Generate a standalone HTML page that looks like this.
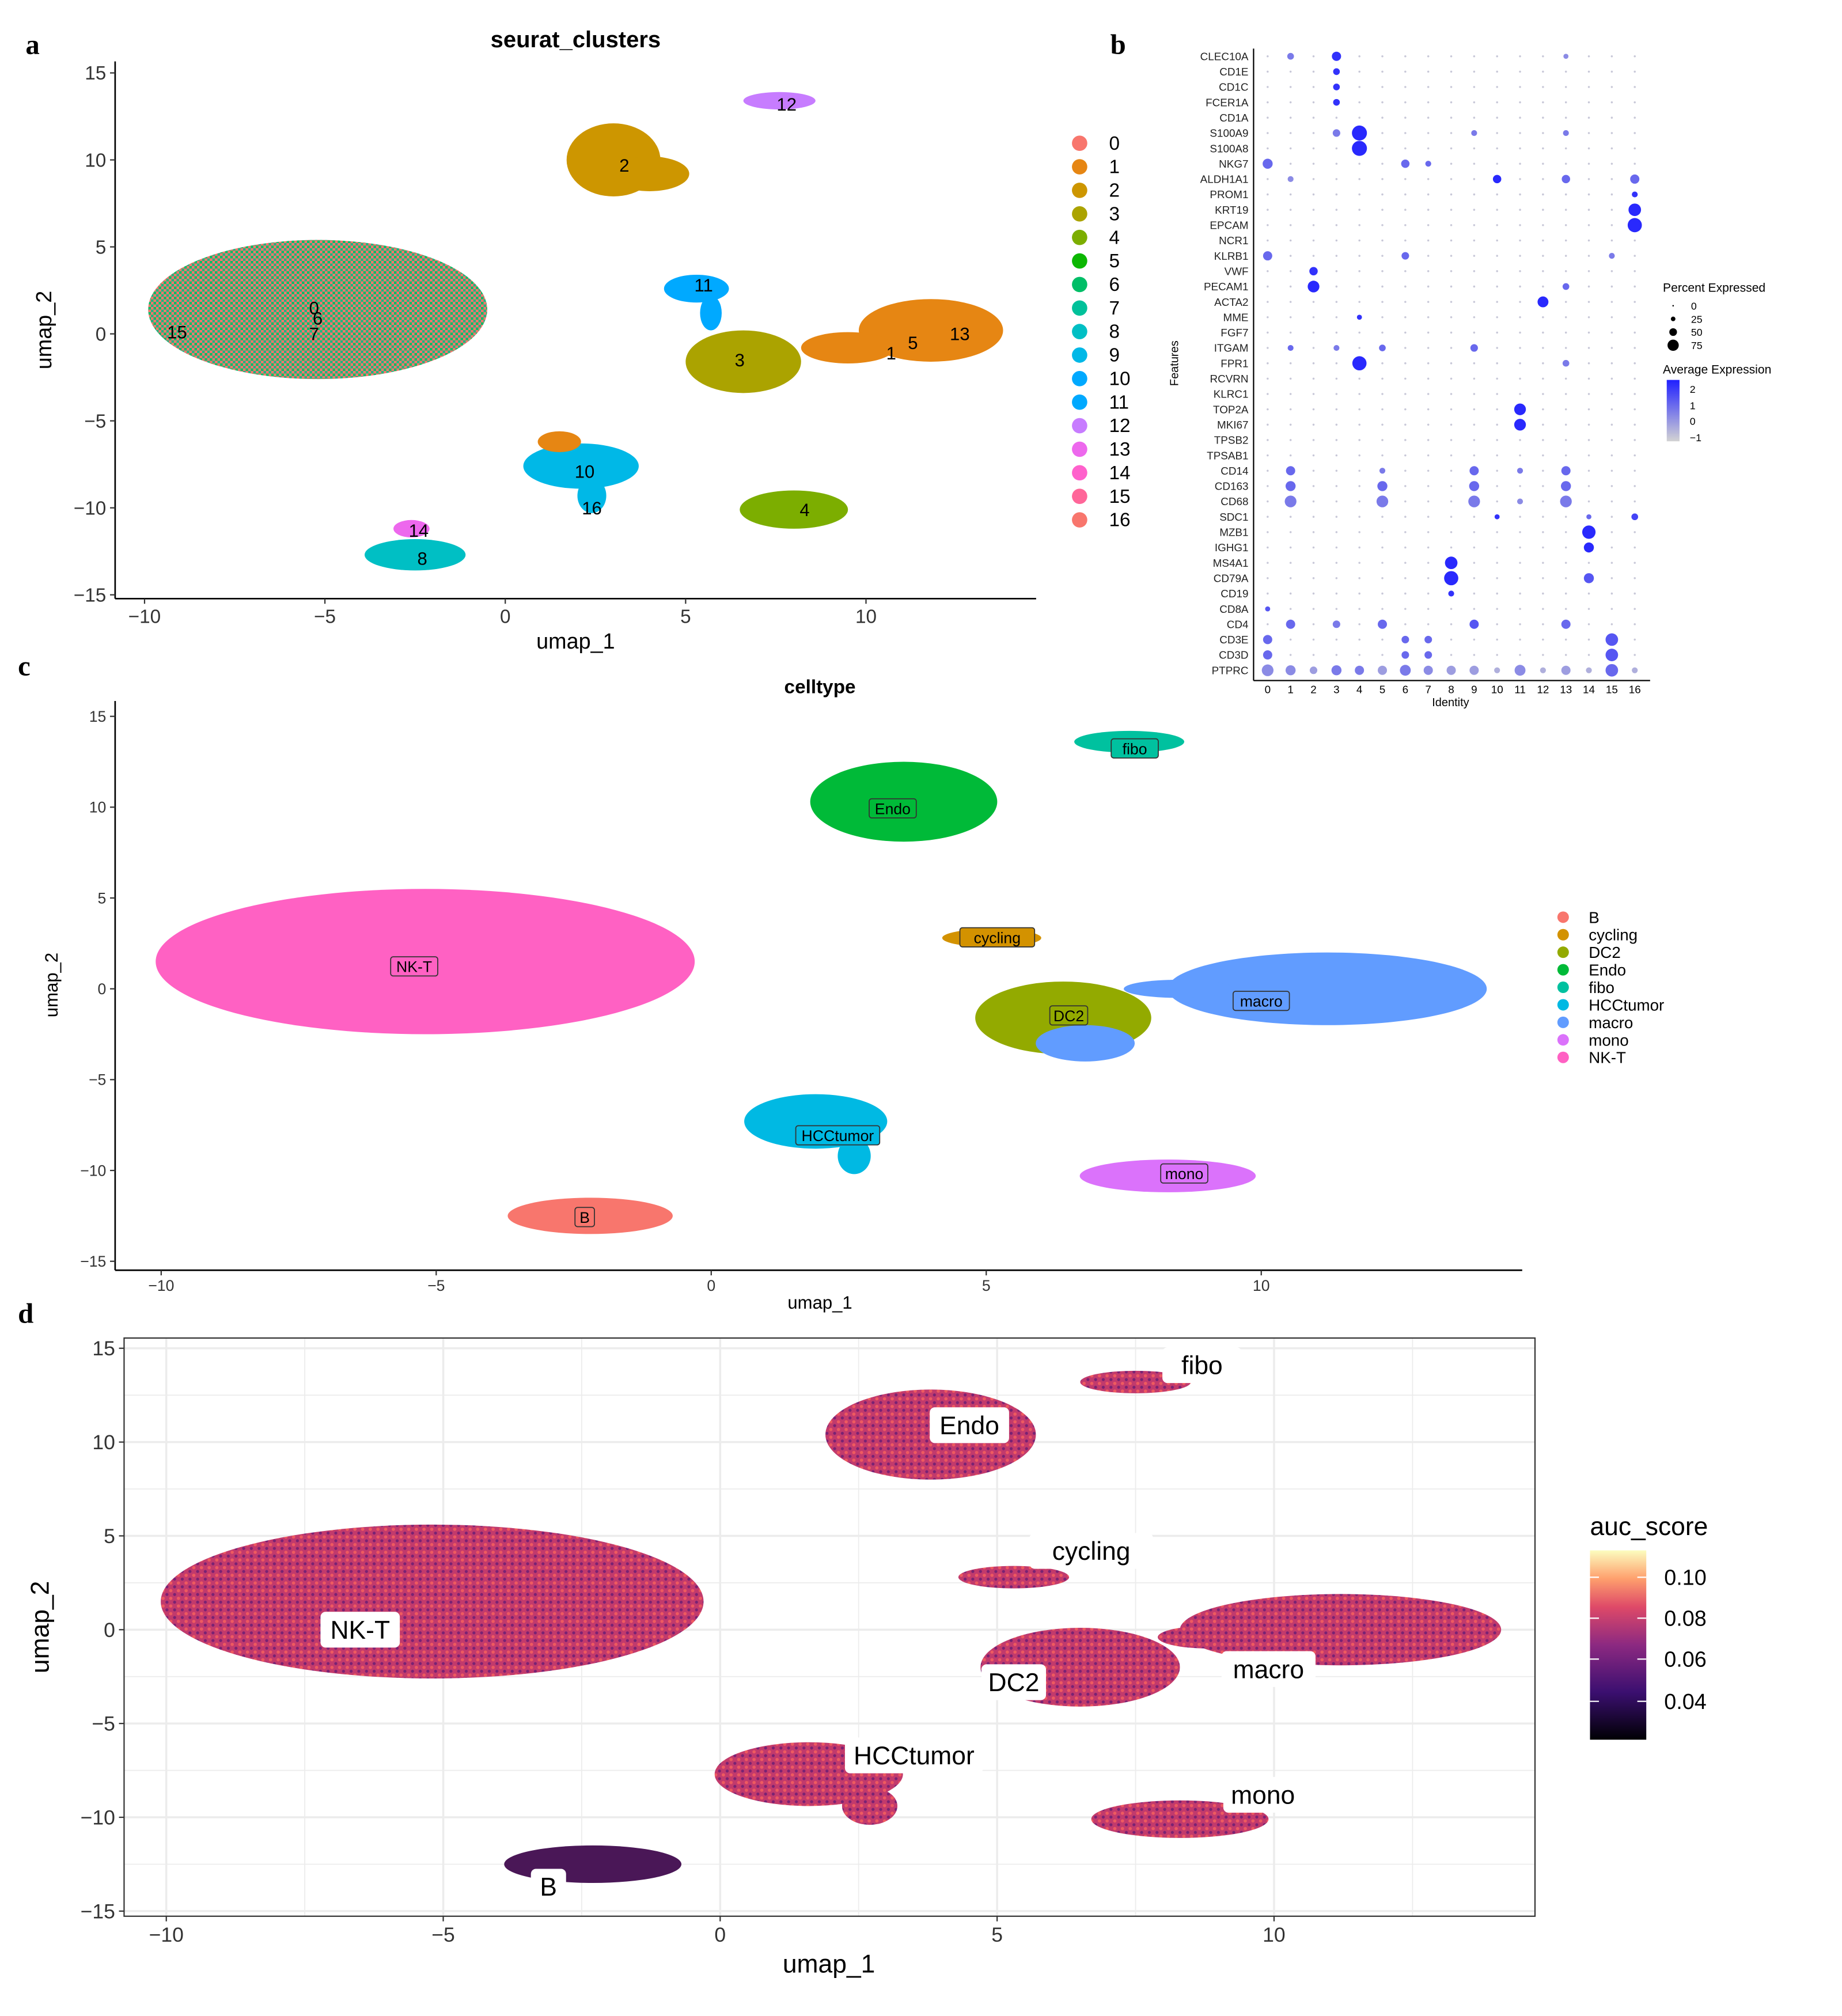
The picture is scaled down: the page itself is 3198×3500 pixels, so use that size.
<!DOCTYPE html>
<html><head><meta charset="utf-8">
<style>
html,body{margin:0;padding:0;background:#fff;}
svg{display:block;font-family:"Liberation Sans",sans-serif;}
</style></head>
<body>
<svg id="fig" width="3198" height="3500" viewBox="0 0 1440 1576" xmlns="http://www.w3.org/2000/svg">
<defs>
<pattern id="mix" width="4" height="4" patternUnits="userSpaceOnUse">
<rect width="4" height="4" fill="#F8766D"/><rect x="0" y="0" width="2" height="2" fill="#00BE67"/><rect x="2" y="2" width="2" height="2" fill="#1fb580"/>
</pattern>
<pattern id="magma" width="6" height="6" patternUnits="userSpaceOnUse">
<rect width="6" height="6" fill="#c23a6c"/><circle cx="1.5" cy="1.5" r="1.3" fill="#ee5a60"/><circle cx="4.5" cy="4.5" r="1.2" fill="#7a2273"/>
</pattern>
<linearGradient id="aucg" x1="0" y1="1" x2="0" y2="0">
<stop offset="0" stop-color="#000004"/><stop offset="0.25" stop-color="#3b0f70"/><stop offset="0.5" stop-color="#8c2981"/><stop offset="0.7" stop-color="#de4968"/><stop offset="0.85" stop-color="#fe9f6d"/><stop offset="1" stop-color="#fcfdbf"/>
</linearGradient>
<linearGradient id="expg" x1="0" y1="1" x2="0" y2="0">
<stop offset="0" stop-color="#d3d3d3"/><stop offset="1" stop-color="#2020ff"/>
</linearGradient>
</defs>
<g id="root"></g>
</svg>
<script>
// ---------- data ----------
const aNames=['0/6/7','2','2b','1/5/13','1b','3','11','11b','10','10tail','4','8','14','12','9'];
const aCx=[-5.2,3.0,4.0,11.8,9.5,6.6,5.3,5.7,2.1,2.4,8.0,-2.5,-2.6,7.6,1.5];
const aCy=[1.4,10.0,9.2,0.2,-0.8,-1.6,2.6,1.2,-7.6,-9.3,-10.1,-12.7,-11.2,13.4,-6.2];
const aRx=[4.7,1.3,1.1,2.0,1.3,1.6,0.9,0.3,1.6,0.4,1.5,1.4,0.5,1.0,0.6];
const aRy=[4.0,2.1,1.0,1.8,0.9,1.8,0.8,1.0,1.3,1.0,1.1,0.9,0.5,0.5,0.6];
const aCol=['url(#mix)','#CD9600','#CD9600','#E68613','#E68613','#ABA300','#00A9FF','#00A9FF','#00B8E7','#00B8E7','#7CAE00','#00BFC4','#ED68ED','#C77CFF','#E68613'];
const aLabels=['0','6','7','15','2','12','11','3','1','5','13','10','16','14','4','8'];
const aLx=[-5.3,-5.2,-5.3,-9.1,3.3,7.8,5.5,6.5,10.7,11.3,12.6,2.2,2.4,-2.4,8.3,-2.3];
const aLy=[1.5,0.9,0.0,0.1,9.7,13.2,2.8,-1.5,-1.1,-0.5,0.0,-7.9,-10.0,-11.3,-10.1,-12.9];
const clusterIds=['0','1','2','3','4','5','6','7','8','9','10','11','12','13','14','15','16'];
const clusterCols=['#F8766D','#E68613','#CD9600','#ABA300','#7CAE00','#0CB702','#00BE67','#00C19A','#00BFC4','#00B8E7','#00A9FF','#00A9FF','#C77CFF','#ED68ED','#FF61CC','#FF6699','#F8766D'];

const cNames=['NK-T','Endo','fibo','cycling','DC2','macro','HCCtumor','mono','B','bridge','dc2-tail','hcc-tail'];
const cCx=[-5.2,3.5,7.6,5.1,6.4,11.2,1.9,8.3,-2.2,8.5,6.8,2.6];
const cCy=[1.5,10.3,13.6,2.8,-1.6,0.0,-7.3,-10.3,-12.5,0.0,-3.0,-9.2];
const cRx=[4.9,1.7,1.0,0.9,1.6,2.9,1.3,1.6,1.5,1.0,0.9,0.3];
const cRy=[4.0,2.2,0.6,0.5,2.0,2.0,1.5,0.9,1.0,0.5,1.0,1.0];
const cCol=['#FF61C3','#00BA38','#00C19F','#D39200','#93AA00','#619CFF','#00B9E3','#DB72FB','#F8766D','#619CFF','#619CFF','#00B9E3'];
const cLx=[-5.4,3.3,7.7,5.2,6.5,10.0,2.3,8.6,-2.3];
const cLy=[1.2,9.9,13.2,2.8,-1.5,-0.7,-8.1,-10.2,-12.6];
const cellTypes=['B','cycling','DC2','Endo','fibo','HCCtumor','macro','mono','NK-T'];
const cellCols=['#F8766D','#D39200','#93AA00','#00BA38','#00C19F','#00B9E3','#619CFF','#DB72FB','#FF61C3'];

const dCx=[-5.2,3.8,7.5,5.3,6.5,11.2,1.6,8.3,-2.3,8.8,2.7];
const dCy=[1.5,10.4,13.2,2.8,-2.0,0.0,-7.7,-10.1,-12.5,-0.4,-9.4];
const dRx=[4.9,1.9,1.0,1.0,1.8,2.9,1.7,1.6,1.6,0.9,0.5];
const dRy=[4.1,2.4,0.6,0.6,2.1,1.9,1.7,1.0,1.0,0.6,1.0];
const dCol=['url(#magma)','url(#magma)','url(#magma)','url(#magma)','url(#magma)','url(#magma)','url(#magma)','url(#magma)','#4a1757','url(#magma)','url(#magma)'];
const dLx=[-6.5,4.5,8.7,6.7,5.3,9.9,3.5,9.8,-3.1];
const dLy=[0.0,10.9,14.1,4.2,-2.8,-2.1,-6.7,-8.8,-13.7];

const genes=['CLEC10A','CD1E','CD1C','FCER1A','CD1A','S100A9','S100A8','NKG7','ALDH1A1','PROM1','KRT19','EPCAM','NCR1','KLRB1','VWF','PECAM1','ACTA2','MME','FGF7','ITGAM','FPR1','RCVRN','KLRC1','TOP2A','MKI67','TPSB2','TPSAB1','CD14','CD163','CD68','SDC1','MZB1','IGHG1','MS4A1','CD79A','CD19','CD8A','CD4','CD3E','CD3D','PTPRC'];
const dotGene=[0,0,0,1,2,3,5,5,5,5,6,7,7,7,8,8,8,8,9,10,11,13,13,13,14,15,15,16,17,19,19,19,19,20,20,23,24,27,27,27,27,27,28,28,28,28,29,29,29,29,29,30,30,30,31,32,33,34,34,35,36,37,37,37,37,37,38,38,38,38,39,39,39,39,40,40,40,40,40,40,40,40,40,40,40,40,40,40,40,40,40];
const dotClu=[1,3,13,3,3,3,3,4,9,13,4,0,6,7,1,10,13,16,16,16,16,0,6,15,2,2,13,12,4,1,3,5,9,4,13,11,11,1,5,9,11,13,1,5,9,13,1,5,9,11,13,14,10,16,14,14,8,8,14,8,0,1,3,5,9,13,0,6,7,15,0,6,7,15,0,1,2,3,4,5,6,7,8,9,10,11,12,13,14,15,16];
const dotPct=[25,40,15,25,25,25,30,75,20,20,75,45,35,20,20,35,35,40,20,60,70,40,30,20,35,55,25,50,15,20,20,25,30,70,25,55,55,40,20,40,20,40,45,45,45,45,55,55,55,20,55,15,15,25,65,45,60,70,45,20,15,40,30,40,40,40,40,30,30,60,40,30,30,60,55,45,30,45,40,40,50,40,40,40,20,50,20,40,20,60,20];
const dotExp=[0.5,0.9,0.4,0.9,0.9,0.9,0.5,0.95,0.5,0.5,0.95,0.6,0.6,0.6,0.4,0.95,0.6,0.6,0.9,0.95,0.95,0.6,0.6,0.5,0.9,0.95,0.6,0.95,0.9,0.6,0.5,0.6,0.6,0.95,0.5,0.95,0.95,0.6,0.5,0.6,0.5,0.6,0.6,0.6,0.6,0.6,0.5,0.5,0.5,0.4,0.5,0.6,0.9,0.8,0.95,0.95,0.95,0.95,0.7,0.9,0.7,0.6,0.5,0.6,0.7,0.6,0.6,0.6,0.6,0.7,0.6,0.6,0.6,0.7,0.4,0.4,0.3,0.5,0.5,0.3,0.5,0.4,0.3,0.3,0.2,0.4,0.2,0.3,0.2,0.6,0.2];

// ---------- helpers ----------
const NS='http://www.w3.org/2000/svg';
const root=document.getElementById('root');
function el(tag,attrs,parent,txt){const e=document.createElementNS(NS,tag);for(const k in attrs)e.setAttribute(k,attrs[k]);if(txt!==undefined)e.textContent=txt;(parent||root).appendChild(e);return e;}
function lin(d0,d1,p0,p1){return v=>p0+(v-d0)*(p1-p0)/(d1-d0);}
function axesFrame(X,Y,xl,xr,yt,yb,xt,yt_,fs,box){
  if(box){const r=el('rect',{x:xl,y:yt,width:xr-xl,height:yb-yt,fill:'none',stroke:'#333','stroke-width':1});}
  else{
  const ax=el('line',{x1:xl,y1:yb,x2:xr,y2:yb,stroke:'#000','stroke-width':1.2});
  const ay=el('line',{x1:xl,y1:yt,x2:xl,y2:yb,stroke:'#000','stroke-width':1.2});}
  xt.forEach(v=>{el('line',{x1:X(v),y1:yb,x2:X(v),y2:yb+4,stroke:'#333'});const t=el('text',{x:X(v),y:yb+4+fs,'font-size':fs,'text-anchor':'middle',fill:'#333'},null,v<0?'\u2212'+(-v):String(v));});
  yt_.forEach(v=>{el('line',{x1:xl-4,y1:Y(v),x2:xl,y2:Y(v),stroke:'#333'});const t=el('text',{x:xl-7,y:Y(v)+fs*0.35,'font-size':fs,'text-anchor':'end',fill:'#333'},null,v<0?'\u2212'+(-v):String(v));});
}
function blobs(X,Y,names,cx,cy,rx,ry,col,prefix){
  names.forEach((n,i)=>{const e=el('ellipse',{cx:X(cx[i]),cy:Y(cy[i]),rx:Math.abs(X(cx[i]+rx[i])-X(cx[i])),ry:Math.abs(Y(cy[i]+ry[i])-Y(cy[i])),fill:col[i]});
    
    });
}
function text(x,y,s,fs,opts){const t=el('text',Object.assign({x:x,y:y,'font-size':fs,fill:'#000'},opts||{}),null,s);return t;}

// ---------- panel letters ----------
[['a',20,42],['b',868,42],['c',14,528],['d',14,1034]].forEach(p=>{const t=text(p[1],p[2],p[0],22,{'font-family':'Liberation Serif, serif','font-weight':'bold'});});

// ---------- panel a ----------
{const X=lin(0,10,395,677),Y=lin(0,15,261,57);
 blobs(X,Y,aNames,aCx,aCy,aRx,aRy,aCol,'a');
 axesFrame(X,Y,90,810,48,468,[-10,-5,0,5,10],[15,10,5,0,-5,-10,-15],15,false);
 aLabels.forEach((l,i)=>{const t=text(X(aLx[i]),Y(aLy[i])+5,l,14,{'text-anchor':'middle'});});
 let t=text(450,37,'seurat_clusters',18,{'text-anchor':'middle','font-weight':'bold'});
 t=text(450,507,'umap_1',17,{'text-anchor':'middle'});
 t=text(40,258,'umap_2',17,{'text-anchor':'middle',transform:'rotate(-90 40 258)'});
 clusterIds.forEach((c,i)=>{const y=112+i*18.4;const d=el('circle',{cx:844,cy:y,r:6,fill:clusterCols[i]});
  const tt=text(867,y+5,c,15);});
}

// ---------- panel b (dot plot) ----------
{const X=lin(0,16,991,1278),Y=i=>44+i*12;
 const ax=el('line',{x1:980,y1:38,x2:980,y2:532,stroke:'#000'});
 const bx=el('line',{x1:980,y1:532,x2:1290,y2:532,stroke:'#000'});
 genes.forEach((g,i)=>{const t=text(976,Y(i)+3,g,8.5,{'text-anchor':'end',fill:'#222'});
  clusterIds.forEach((c,j)=>{el('circle',{cx:X(j),cy:Y(i),r:0.8,fill:'#c8c8d8'});});});
 clusterIds.forEach((c,j)=>{const t=text(X(j),542,c,8.5,{'text-anchor':'middle'});});
 function col(e){const a=[211,211,211],b=[32,32,255];return 'rgb('+a.map((v,k)=>Math.round(v+(b[k]-v)*e)).join(',')+')';}
 dotGene.forEach((g,k)=>{const d=el('circle',{cx:X(dotClu[k]),cy:Y(g),r:1+dotPct[k]/100*6.5,fill:col(dotExp[k])});});
 let t=text(1134,552,'Identity',9,{'text-anchor':'middle'});
 t=text(921,284,'Features',9,{'text-anchor':'middle',transform:'rotate(-90 921 284)'});
 t=text(1300,228,'Percent Expressed',9.5);
 [[0,0.6],[25,1.8],[50,3],[75,4.4]].forEach((p,i)=>{const y=239+i*10.3;el('circle',{cx:1308,cy:y,r:p[1],fill:'#000'});const tt=text(1322,y+3,String(p[0]),8);});
 t=text(1300,292,'Average Expression',9.5);
 const cb=el('rect',{x:1303,y:297,width:10,height:48,fill:'url(#expg)'});
 [['2',304],['1',317],['0',329],['\u22121',342]].forEach(p=>{const tt=text(1321,p[1]+3,p[0],8);});
}

// ---------- panel c ----------
{const X=lin(0,10,556,986),Y=lin(0,15,773,560);
 blobs(X,Y,cNames,cCx,cCy,cRx,cRy,cCol,'c');
 axesFrame(X,Y,90,1190,548,993,[-10,-5,0,5,10],[15,10,5,0,-5,-10,-15],12,false);
 cNames.slice(0,9).forEach((n,i)=>{const x=X(cLx[i]),y=Y(cLy[i]);const w=n.length*7.2+8;
  const r=el('rect',{x:x-w/2,y:y-8,width:w,height:15,rx:2,fill:cCol[i],stroke:'#333','stroke-width':0.8});
  const t=text(x,y+4,n,12,{'text-anchor':'middle'});});
 let t=text(641,542,'celltype',15,{'text-anchor':'middle','font-weight':'bold'});
 t=text(641,1023,'umap_1',14,{'text-anchor':'middle'});
 t=text(45,770,'umap_2',14,{'text-anchor':'middle',transform:'rotate(-90 45 770)'});
 cellTypes.forEach((c,i)=>{const y=717+i*13.7;const d=el('circle',{cx:1222,cy:y,r:4.5,fill:cellCols[i]});
  const tt=text(1242,y+4.5,c,12.5);});
}

// ---------- panel d ----------
{const X=lin(0,10,563,996),Y=lin(0,15,1274,1054);
 const bg=el('rect',{x:97,y:1046,width:1103,height:452,fill:'#fff'});
 for(let v=-12.5;v<=15;v+=2.5){const x=X(v);if(x>97&&x<1200)el('line',{x1:x,y1:1046,x2:x,y2:1498,stroke:'#ececec','stroke-width':v%5===0?1.6:0.8});}
 for(let v=-15;v<=15;v+=2.5){const y=Y(v);el('line',{x1:97,y1:y,x2:1200,y2:y,stroke:'#ececec','stroke-width':v%5===0?1.6:0.8});}
 blobs(X,Y,dCx.map((v,i)=>i<9?cNames[i]:(i===9?'bridge':'hcc-tail')),dCx,dCy,dRx,dRy,dCol,'d');
 axesFrame(X,Y,97,1200,1046,1498,[-10,-5,0,5,10],[15,10,5,0,-5,-10,-15],16,true);
 cNames.slice(0,9).forEach((n,i)=>{const x=X(dLx[i]),y=Y(dLy[i]);const w=n.length*11.5+16;
  const r=el('rect',{x:x-w/2,y:y-14,width:w,height:28,rx:4,fill:'#fff'});
  const t=text(x,y+7,n,20,{'text-anchor':'middle'});});
 let t=text(648,1542,'umap_1',20,{'text-anchor':'middle'});
 t=text(38,1272,'umap_2',20,{'text-anchor':'middle',transform:'rotate(-90 38 1272)'});
 t=text(1243,1200,'auc_score',20);
 const cb=el('rect',{x:1243,y:1212,width:44,height:148,fill:'url(#aucg)'});
 [['0.10',1233],['0.08',1265],['0.06',1297],['0.04',1330]].forEach(p=>{el('line',{x1:1243,y1:p[1],x2:1250,y2:p[1],stroke:'#fff'});el('line',{x1:1280,y1:p[1],x2:1287,y2:p[1],stroke:'#fff'});const tt=text(1301,p[1]+6,p[0],17);});
}
</script>
</body></html>
